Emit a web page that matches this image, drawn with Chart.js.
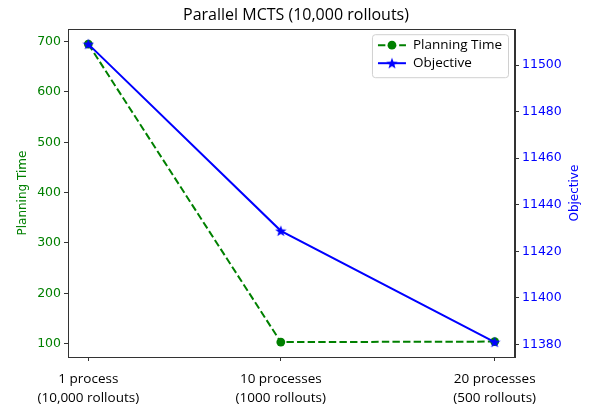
<!DOCTYPE html>
<html>
<head>
<meta charset="utf-8">
<script src="https://cdn.jsdelivr.net/npm/chart.js@4.4.0/dist/chart.umd.min.js"></script>
<style>
  html, body { margin: 0; padding: 0; background: #fff; }
  #wrap { width: 592px; height: 410px; }
</style>
</head>
<body>
<div id="wrap"><canvas id="chart" width="592" height="410"></canvas></div>
<script>
// data
const processes = [1, 10, 20];
const xLabels = [
    ['1 process', '(10,000 rollouts)'],
    ['10 processes', '(1000 rollouts)'],
    ['20 processes', '(500 rollouts)']
];
const planningTime = [695, 103, 104];
const objective = [11509, 11428.8, 11381];
const planningTicks = [100, 200, 300, 400, 500, 600, 700];
const objectiveTicks = [11380, 11400, 11420, 11440, 11460, 11480, 11500];

const GREEN = '#008000';
const BLUE = '#0000ff';
const SPINE = '#333';
const DEJAVU = 'DejaVu Sans, Verdana, sans-serif';
const SANS = 'Open Sans, sans-serif';

// matplotlib style 5% margins
function padRange(arr) {
    const lo = Math.min(...arr), hi = Math.max(...arr);
    const m = (hi - lo) * 0.05;
    return { min: lo - m, max: hi + m };
}

// filled 5 point star like matplotlib '*'
function makeStar(size, color) {
    const c = document.createElement('canvas');
    c.width = size; c.height = size;
    const g = c.getContext('2d');
    const cx = size / 2, cy = size / 2 + 0.5;
    const R = size / 2, r = R * 0.42;
    g.beginPath();
    for (let i = 0; i < 10; i++) {
        const rad = i % 2 === 0 ? R : r;
        const a = -Math.PI / 2 + i * Math.PI / 5;
        const px = cx + rad * Math.cos(a), py = cy + rad * Math.sin(a);
        i === 0 ? g.moveTo(px, py) : g.lineTo(px, py);
    }
    g.closePath();
    g.fillStyle = color;
    g.fill();
    return c;
}
const star = makeStar(12, BLUE);

const xr = padRange(processes);
const yr = padRange(planningTime);
const y1r = padRange(objective);

// frame around the plot + right axis title (reads bottom to top like matplotlib)
const framePlugin = {
    id: 'frame',
    afterDraw(chart) {
        const { ctx, chartArea: a } = chart;
        ctx.save();
        ctx.strokeStyle = SPINE;
        ctx.lineWidth = 1;
        ctx.strokeRect(Math.round(a.left) + 0.5, Math.round(a.top) + 0.5,
            Math.round(a.right - a.left) - 1, Math.round(a.bottom - a.top));
        ctx.translate(575, (a.top + a.bottom) / 2);
        ctx.rotate(-Math.PI / 2);
        ctx.font = '12px ' + DEJAVU;
        ctx.fillStyle = BLUE;
        ctx.textAlign = 'center';
        ctx.textBaseline = 'middle';
        ctx.fillText('Objective', 0, 0);
        ctx.restore();
    }
};

// legend drawn inside the plot, upper right
const legendPlugin = {
    id: 'innerLegend',
    afterDraw(chart) {
        const { ctx, chartArea: a } = chart;
        ctx.save();
        ctx.font = '13.5px ' + SANS;
        const items = chart.data.datasets;
        const textW = Math.max(...items.map(d => ctx.measureText(d.label).width));
        const w = 40 + textW + 7;
        const h = 43;
        const x = a.right - 7 - w;
        const y = a.top + 5;
        ctx.beginPath();
        ctx.roundRect(x + 0.5, y + 0.5, w, h, 3);
        ctx.fillStyle = 'rgba(255,255,255,0.85)';
        ctx.fill();
        ctx.strokeStyle = '#d0d0d0';
        ctx.lineWidth = 1;
        ctx.stroke();
        items.forEach((d, i) => {
            const cy = y + 11 + i * 18;
            ctx.beginPath();
            ctx.strokeStyle = d.borderColor;
            ctx.lineWidth = d.borderWidth;
            ctx.setLineDash(d.borderDash || []);
            ctx.moveTo(x + 6, cy);
            ctx.lineTo(x + 34, cy);
            ctx.stroke();
            ctx.setLineDash([]);
            if (d.pointStyle === 'circle') {
                ctx.beginPath();
                ctx.arc(x + 20, cy, d.pointRadius, 0, Math.PI * 2);
                ctx.fillStyle = d.backgroundColor;
                ctx.fill();
            } else {
                ctx.drawImage(d.pointStyle, x + 20 - 6, cy - 6, 12, 12);
            }
            ctx.fillStyle = '#000';
            ctx.textBaseline = 'middle';
            ctx.fillText(d.label, x + 41, cy);
        });
        ctx.restore();
    }
};

new Chart(document.getElementById('chart'), {
    type: 'line',
    data: {
        datasets: [{
            label: 'Planning Time',
            data: processes.map((p, i) => ({ x: p, y: planningTime[i] })),
            yAxisID: 'y',
            borderColor: GREEN,
            backgroundColor: GREEN,
            borderWidth: 2,
            borderDash: [7.4, 3.2],
            pointStyle: 'circle',
            pointRadius: 4.4,
            pointBorderWidth: 0,
            order: 2
        }, {
            label: 'Objective',
            data: processes.map((p, i) => ({ x: p, y: objective[i] })),
            yAxisID: 'y1',
            borderColor: BLUE,
            backgroundColor: BLUE,
            borderWidth: 2,
            pointStyle: star,
            pointRadius: 5,
            order: 1
        }]
    },
    options: {
        responsive: false,
        animation: false,
        layout: { padding: 0 },
        plugins: {
            legend: { display: false },
            tooltip: { enabled: false },
            title: {
                display: true,
                text: 'Parallel MCTS (10,000 rollouts)',
                color: '#000',
                font: { family: SANS, size: 16, weight: 'normal' },
                padding: { top: 6, bottom: 4 }
            }
        },
        scales: {
            x: {
                type: 'linear',
                min: xr.min,
                max: xr.max,
                afterBuildTicks: s => { s.ticks = processes.map(v => ({ value: v })); },
                afterFit: s => { s.height = 53; },
                ticks: {
                    autoSkip: false,
                    maxRotation: 0,
                    color: '#000',
                    padding: 9,
                    font: { family: SANS, size: 13.5, lineHeight: 1.4 },
                    callback: v => xLabels[processes.indexOf(v)]
                },
                grid: { drawOnChartArea: false, tickLength: 4, color: SPINE },
                border: { color: SPINE }
            },
            y: {
                position: 'left',
                min: yr.min,
                max: yr.max,
                afterBuildTicks: s => { s.ticks = planningTicks.map(v => ({ value: v })); },
                afterFit: s => { s.width = 68; },
                ticks: {
                    color: GREEN,
                    padding: 3,
                    font: { family: DEJAVU, size: 12.5 },
                    callback: v => String(v)
                },
                title: {
                    display: true,
                    text: 'Planning Time',
                    color: GREEN,
                    font: { family: DEJAVU, size: 12 },
                    padding: { top: 16 }
                },
                grid: { drawOnChartArea: false, tickLength: 4, color: SPINE },
                border: { color: SPINE }
            },
            y1: {
                position: 'right',
                min: y1r.min,
                max: y1r.max,
                afterBuildTicks: s => { s.ticks = objectiveTicks.map(v => ({ value: v })); },
                afterFit: s => { s.width = 77; },
                ticks: {
                    color: BLUE,
                    padding: 3,
                    font: { family: DEJAVU, size: 12.5 },
                    callback: v => String(v)
                },
                grid: { drawOnChartArea: false, tickLength: 4, color: SPINE },
                border: { color: SPINE }
            }
        }
    },
    plugins: [framePlugin, legendPlugin]
});
</script>
</body>
</html>
